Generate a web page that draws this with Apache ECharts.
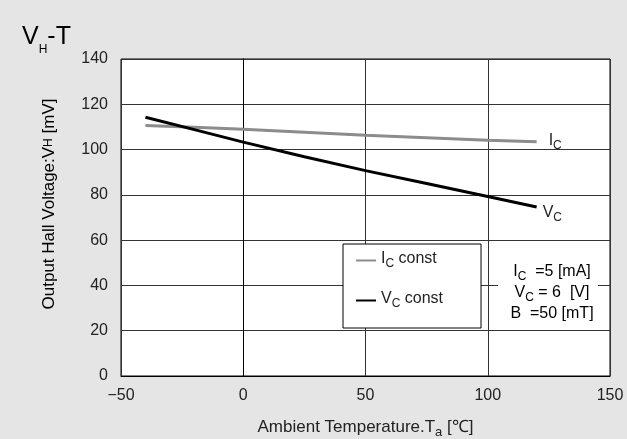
<!DOCTYPE html>
<html><head><meta charset="utf-8">
<script src="https://cdn.jsdelivr.net/npm/echarts@6/dist/echarts.min.js"></script>
<style>html,body{margin:0;padding:0;background:#e5e5e5}#c{width:627px;height:439px}</style>
</head><body><div id="c"></div><script>
const temps = [-40, -20, 0, 25, 50, 75, 100, 120];
const icConst = [110.6, 109.9, 109.0, 107.7, 106.3, 105.2, 104.1, 103.4];
const vcConst = [114.3, 108.8, 103.3, 96.8, 90.7, 85.0, 79.3, 74.6];
const seriesNames = ['Ic const', 'Vc const'];
const FONT = "'Liberation Sans', Arial, Helvetica, sans-serif";

const chart = echarts.init(document.getElementById('c'), null, {renderer: 'canvas'});

function subRich(size, sub) {
  return {
    n: {fontSize: size, fontFamily: FONT, color: '#222', verticalAlign: 'bottom', padding: [0, 0, 3, 0]},
    s: {fontSize: sub, fontFamily: FONT, color: '#222', verticalAlign: 'bottom'}
  };
}

chart.setOption({
  backgroundColor: '#e5e5e5',
  animation: false,
  grid: {left: 121, top: 59, width: 489, height: 317, show: true, containLabel: false,
         outerBoundsMode: 'none',
         backgroundColor: '#fff', borderColor: '#000', borderWidth: 1},
  xAxis: {
    type: 'value', min: -50, max: 150, interval: 50,
    axisLine: {lineStyle: {color: '#000', width: 1}},
    axisTick: {show: false},
    splitLine: {lineStyle: {color: '#333', width: 1}},
    axisLabel: {margin: 12, fontSize: 16, fontFamily: FONT, color: '#222',
      formatter: v => String(v).replace('-', '\u2212')},
    name: '{n|Ambient Temperature.T}{s|a}{n| [\u2103]}',
    nameLocation: 'middle', nameGap: 43,
    nameTextStyle: {fontSize: 17, fontFamily: FONT, color: '#222', rich: subRich(17, 13)}
  },
  yAxis: {
    type: 'value', min: 0, max: 140, interval: 20,
    axisLine: {lineStyle: {color: '#000', width: 1}},
    axisTick: {show: false},
    splitLine: {lineStyle: {color: '#333', width: 1}},
    axisLabel: {margin: 13, fontSize: 16, fontFamily: FONT, color: '#222'}
  },
  legend: {
    data: seriesNames,
    left: 343, top: 244, orient: 'vertical',
    backgroundColor: '#fff', borderColor: '#000', borderWidth: 1,
    padding: [7, 38, 18, 13],
    itemGap: 21, itemWidth: 20, itemHeight: 2, icon: 'rect',
    formatter: n => n === 'Ic const' ? '{n|I}{s|C}{n| const}' : '{n|V}{s|C}{n| const}',
    textStyle: {fontSize: 16, fontFamily: FONT, color: '#222', rich: subRich(16, 12)}
  },
  series: [
    {name: 'Ic const', type: 'line', data: temps.map((t, i) => [t, icConst[i]]),
     showSymbol: false, symbol: 'none', lineStyle: {color: '#8c8c8c', width: 3}, itemStyle: {color: '#8c8c8c'},
     endLabel: {show: true, distance: 12, offset: [0, 0], formatter: '{n|I}{s|C}', rich: subRich(16, 12)}},
    {name: 'Vc const', type: 'line', data: temps.map((t, i) => [t, vcConst[i]]),
     showSymbol: false, symbol: 'none', lineStyle: {color: '#000', width: 3}, itemStyle: {color: '#000'},
     endLabel: {show: true, distance: 6, offset: [0, 7], formatter: '{n|V}{s|C}', rich: subRich(16, 12)}}
  ],
  graphic: [
    {type: 'text', left: 22, top: 25, z: 10,
     style: {text: '{v|V}{h|H}{v|-T}', fill: '#000',
       rich: {v: {fontSize: 25, fontFamily: FONT, color: '#000', verticalAlign: 'bottom', padding: [0, 0, 6, 0]},
              h: {fontSize: 12, fontFamily: FONT, color: '#000', verticalAlign: 'bottom'}}}},
    {type: 'text', x: 49, y: 204, rotation: Math.PI / 2, z: 10,
     style: {text: '{n|Output Hall Voltage:V}{h|H}{n| [mV]}', align: 'center', verticalAlign: 'middle',
       rich: {n: {fontSize: 17, fontFamily: FONT, color: '#222'}, h: {fontSize: 12, fontFamily: FONT, color: '#222'}}}},
    {type: 'rect', shape: {x: 498, y: 260, width: 100, height: 62}, style: {fill: '#fff'}, z: 5},
    {type: 'text', x: 552, y: 293, z: 10,
     style: {text: '{n|I}{s|C}{n|  =5 [mA]}\n{n|V}{s|C}{n| = 6  [V]}\n{n|B  =50 [mT]}',
       align: 'center', verticalAlign: 'middle',
       rich: {n: {fontSize: 16, fontFamily: FONT, color: '#222', verticalAlign: 'bottom', padding: [0, 0, 3, 0], lineHeight: 21},
              s: {fontSize: 12, fontFamily: FONT, color: '#222', verticalAlign: 'bottom', lineHeight: 21}}}}
  ]
});
</script></body></html>
